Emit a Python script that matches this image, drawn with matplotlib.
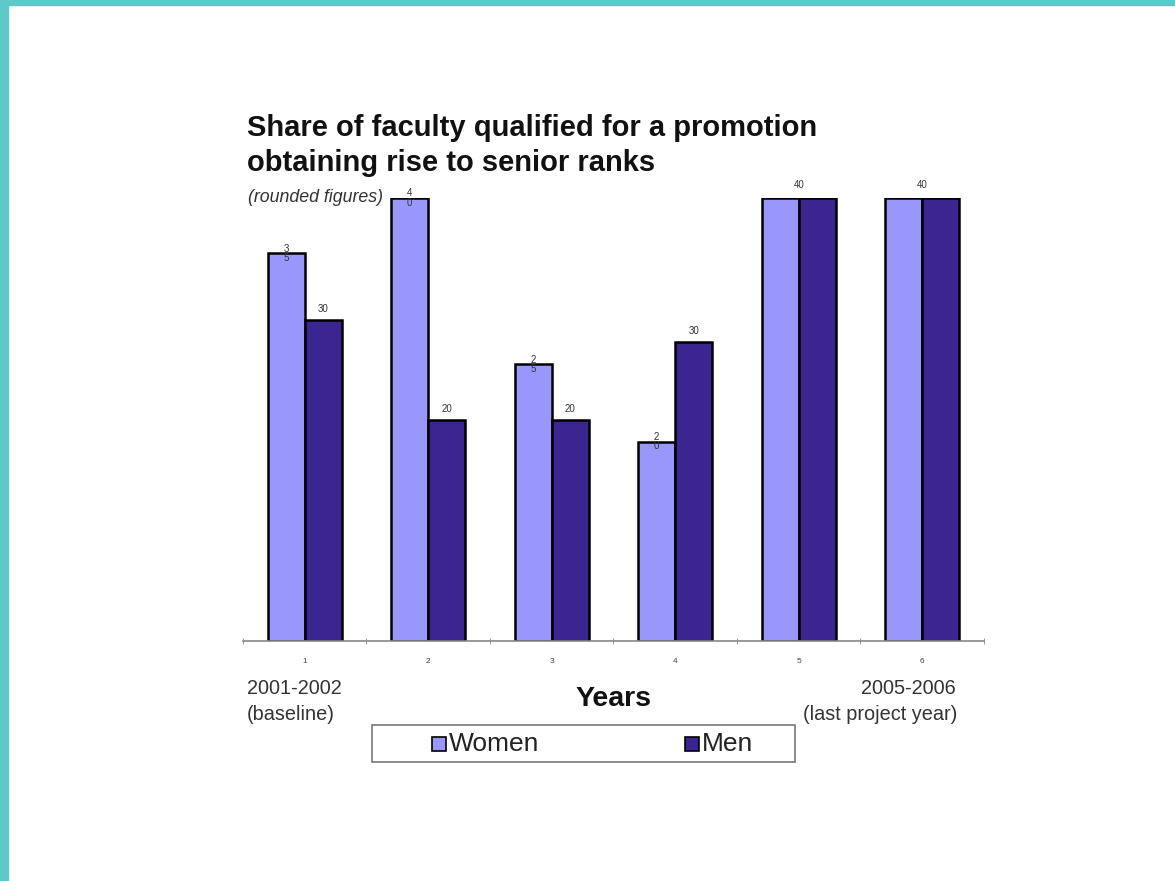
import matplotlib
matplotlib.use('Agg')
import matplotlib.pyplot as plt
from matplotlib.patches import Rectangle
import numpy as np

plt.rcParams['font.family'] = ['Liberation Sans', 'DejaVu Sans']

groups = ['1', '2', '3', '4', '5', '6']
women = [35, 40, 25, 18, 40, 40]
men = [29, 20, 20, 27, 40, 40]
women_labels = ['35', '40', '25', '20', '40', '40']
men_labels = ['30', '20', '20', '30', '40', '40']

WOMEN_C = '#9a97fb'
MEN_C = '#3b2590'
TEAL = '#5fc8c8'
W, H = 1175, 881


def fx(px):
    return px / W


def fy(py):
    return 1 - py / H


fig = plt.figure(figsize=(11.75, 8.81), dpi=100)
fig.patch.set_facecolor('white')

# slide border strips
fig.patches.append(Rectangle((0, 0), fx(8), 1, transform=fig.transFigure, color=TEAL, zorder=0))
fig.patches.append(Rectangle((0, fy(5)), 1, 5 / H, transform=fig.transFigure, color=TEAL, zorder=0))

ax = fig.add_axes([fx(243), fy(641), 741 / W, 443 / H])
x = np.arange(len(groups))
w = 0.3
ax.bar(x - w / 2, women, w, color=WOMEN_C, edgecolor='black', linewidth=1.8, zorder=2)
ax.bar(x + w / 2, men, w, color=MEN_C, edgecolor='black', linewidth=1.8, zorder=2)

ax.set_xlim(-0.5, len(groups) - 0.5)
ax.set_ylim(0, 40)
for s in ['top', 'right', 'left']:
    ax.spines[s].set_visible(False)
ax.spines['bottom'].set_color('#888888')
ax.spines['bottom'].set_linewidth(1.2)
ax.set_yticks([])
ax.set_xticks(x)
ax.set_xticklabels(groups, fontsize=6, color='#444444')
ax.tick_params(axis='x', length=0, pad=12)
ax.set_xticks(np.arange(-0.5, len(groups), 1), minor=True)
ax.tick_params(axis='x', which='minor', length=5, direction='inout', color='#888888')

# value labels
for i in range(len(groups)):
    if women[i] == men[i]:
        ax.text(x[i], men[i] + 0.7, men_labels[i], ha='center', va='bottom',
                fontsize=7, color='#333333')
        continue
    ax.text(x[i] - w / 2, women[i], women_labels[i][0] + '\n' + women_labels[i][1],
            ha='center', va='center', fontsize=7, color='#333333', linespacing=0.9)
    ax.text(x[i] + w / 2, men[i] + 0.5, men_labels[i], ha='center', va='bottom',
            fontsize=7, color='#333333')

# titles
fig.text(fx(247), fy(128), 'Share of faculty qualified for a promotion',
         fontsize=21, fontweight='bold', color='#111111', va='center')
fig.text(fx(247), fy(163), 'obtaining rise to senior ranks',
         fontsize=21, fontweight='bold', color='#111111', va='center')
fig.text(fx(248), fy(197), '(rounded figures)', fontsize=12.8,
         style='italic', color='#333333', va='center', zorder=1)

# x-axis annotations
fig.text(fx(247), fy(689), '2001-2002', fontsize=14.3, color='#333333', va='center')
fig.text(fx(247), fy(715), '(baseline)', fontsize=14.3, color='#333333', va='center')
fig.text(fx(956), fy(689), '2005-2006', fontsize=14.3, color='#333333',
         va='center', ha='right')
fig.text(fx(957), fy(715), '(last project year)', fontsize=14.3, color='#333333',
         va='center', ha='right')
fig.text(fx(613), fy(699), 'Years', fontsize=20.5, fontweight='bold',
         color='#111111', va='center', ha='center')

# legend box drawn by hand to match the original size
fig.patches.append(Rectangle((fx(372), fy(762)), 423 / W, 37 / H, transform=fig.transFigure,
                             facecolor='white', edgecolor='#777777', linewidth=1.2))
for px, col, name in [(432, WOMEN_C, 'Women'), (685, MEN_C, 'Men')]:
    fig.patches.append(Rectangle((fx(px), fy(751)), 14 / W, 14 / H, transform=fig.transFigure,
                                 facecolor=col, edgecolor='black', linewidth=1.2))
    fig.text(fx(px + 17), fy(744), name, fontsize=19, color='#222222', va='center')

fig.savefig('out.png', dpi=100)
